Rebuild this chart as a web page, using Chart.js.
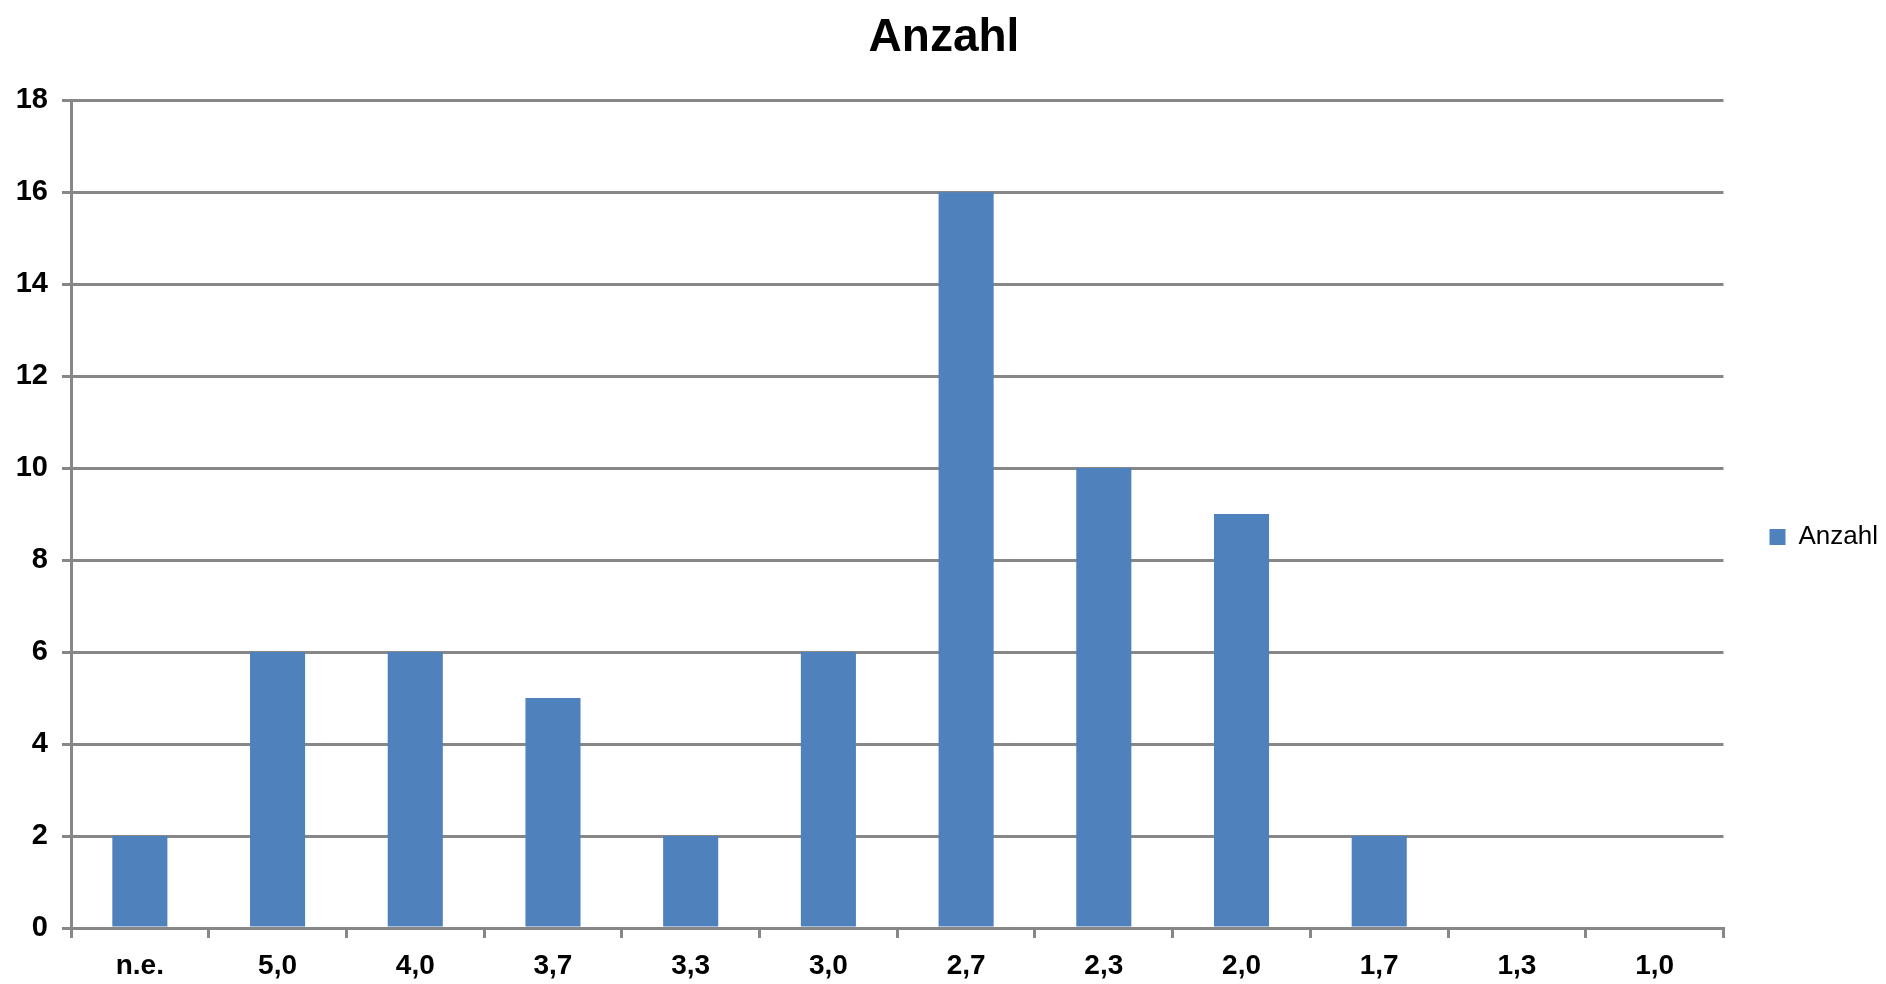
<!DOCTYPE html>
<html>
<head>
<meta charset="utf-8">
<script src="https://cdn.jsdelivr.net/npm/chart.js@4"></script>
<style>
  html, body { margin: 0; padding: 0; background: #fff; }
  #wrap { width: 1886px; height: 984px; }
</style>
</head>
<body>
<div id="wrap"><canvas id="chart_anzahl"></canvas></div>
<script>
const categories = ['n.e.', '5,0', '4,0', '3,7', '3,3', '3,0', '2,7', '2,3', '2,0', '1,7', '1,3', '1,0'];
const anzahl = [2, 6, 6, 5, 2, 6, 16, 10, 9, 2, 0, 0];
const yTicks = [0, 2, 4, 6, 8, 10, 12, 14, 16, 18];

const gridGray = '#878787';
const barBlue = '#4f81bd';

const ctx = document.getElementById('chart_anzahl').getContext('2d');
const chart = new Chart(ctx, {
    type: 'bar',
    data: {
        labels: categories,
        datasets: [{
            label: 'Anzahl',
            data: anzahl,
            backgroundColor: barBlue,
            borderWidth: 0,
            barPercentage: 0.4,
            categoryPercentage: 1.0
        }]
    },
    options: {
        responsive: true,
        maintainAspectRatio: false,
        animation: false,
        layout: {
            padding: { left: 0, right: -2, top: 0, bottom: 0 }
        },
        plugins: {
            title: {
                display: true,
                text: 'Anzahl',
                font: { size: 46, weight: 'bold', family: 'Liberation Sans' },
                color: '#000',
                padding: { top: 11, bottom: 34 }
            },
            legend: {
                display: true,
                position: 'right',
                // empty title only pushes the entry down a bit
                title: {
                    display: true,
                    text: ' ',
                    font: { size: 10 },
                    padding: { top: 39, bottom: 39 }
                },
                labels: {
                    boxWidth: 16,
                    boxHeight: 16,
                    padding: 46,
                    color: '#000',
                    font: { size: 26, family: 'Liberation Sans' }
                }
            },
            tooltip: { enabled: false }
        },
        scales: {
            y: {
                min: 0,
                max: 18,
                afterBuildTicks: axis => { axis.ticks = yTicks.map(v => ({ value: v })); },
                afterFit: axis => { axis.width = 71; },
                grid: {
                    color: gridGray,
                    lineWidth: 3,
                    tickLength: 9,
                    drawTicks: true
                },
                border: { color: gridGray, width: 3 },
                ticks: {
                    color: '#000',
                    padding: 14,
                    font: { size: 29, weight: 'bold', family: 'Liberation Sans' }
                }
            },
            x: {
                afterFit: axis => { axis.height = 56; },
                grid: {
                    offset: true,
                    drawOnChartArea: false,
                    drawTicks: true,
                    tickLength: 10,
                    color: gridGray,
                    lineWidth: 3
                },
                border: { color: gridGray, width: 3 },
                ticks: {
                    color: '#000',
                    padding: 11,
                    maxRotation: 0,
                    autoSkip: false,
                    font: { size: 28, weight: 'bold', family: 'Liberation Sans' }
                }
            }
        }
    }
});
</script>
</body>
</html>
